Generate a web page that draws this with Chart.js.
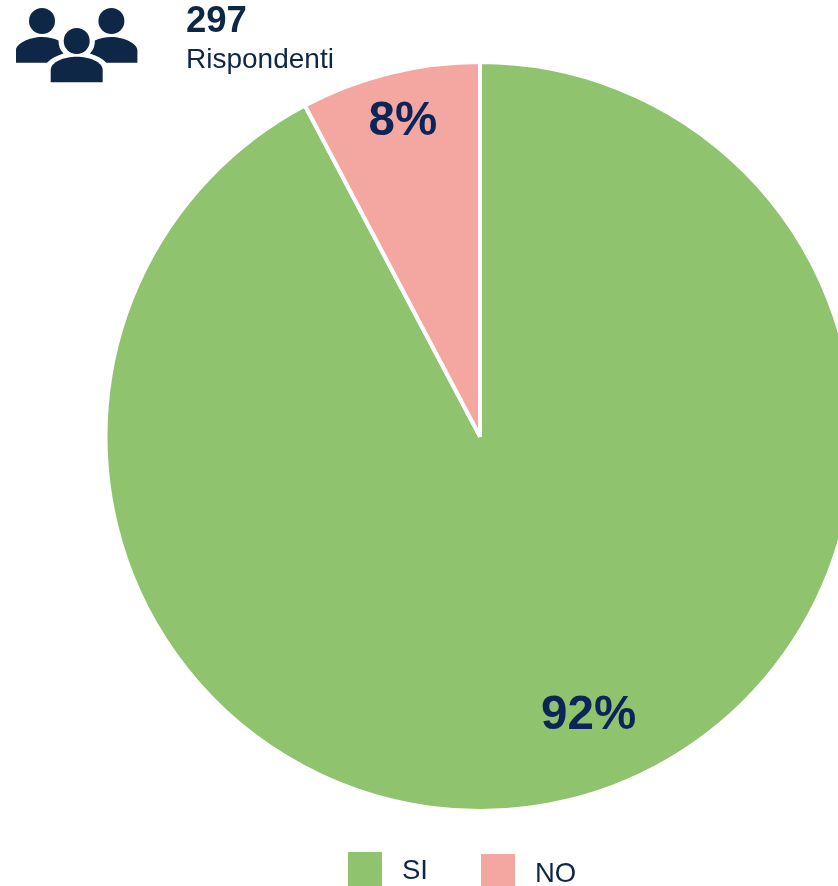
<!DOCTYPE html>
<html>
<head>
<meta charset="utf-8">
<script src="https://cdn.jsdelivr.net/npm/chart.js@4/dist/chart.umd.min.js"></script>
<style>
html,body{margin:0;padding:0;background:#fff;width:838px;height:886px;overflow:hidden;position:relative;font-family:"Liberation Sans",Arial,sans-serif;}
#wrap{position:absolute;left:0;top:0;width:960px;height:872px;}
.t{position:absolute;white-space:nowrap;color:#0e2747;line-height:1;}
.sw{position:absolute;width:34px;}
</style>
</head>
<body>
<div id="wrap"><canvas id="c" width="960" height="872"></canvas></div>
<svg style="position:absolute;left:0;top:0" width="150" height="90" viewBox="0 0 150 90">
  <g fill="#0e2747">
    <circle cx="42" cy="21" r="13"/>
    <circle cx="111.4" cy="21" r="13"/>
    <circle cx="76.7" cy="41" r="13"/>
    <path d="M16 62.7V50C16 44 29 37 42 37C48 37 54 38.5 58.5 40.5C58.5 46 60 50 63.5 53.5C57 55.5 51 58.5 47 62.7Z"/>
    <path d="M137.4 62.7V50C137.4 44 124.4 37 111.4 37C105.4 37 99.4 38.5 94.9 40.5C94.9 46 93.4 50 89.9 53.5C96.4 55.5 102.4 58.5 106.4 62.7Z"/>
    <path d="M50.7 82.3V70C50.7 62 64 56.7 76.7 56.7C89.4 56.7 102.7 62 102.7 70V82.3Z"/>
  </g>
</svg>
<div class="t" style="left:186px;top:2px;font-size:36.5px;font-weight:700;">297</div>
<div class="t" style="left:186px;top:45px;font-size:28px;">Rispondenti</div>
<div class="sw" style="left:348px;top:852px;height:34px;background:#8fc36d;"></div>
<div class="t" style="left:402px;top:856px;font-size:27.5px;">SI</div>
<div class="sw" style="left:481px;top:854px;height:32px;background:#f4a6a0;"></div>
<div class="t" style="left:535px;top:859px;font-size:27.5px;">NO</div>
<script>
const categories = ["SI", "NO"];
const respondents = [274, 23];
const percentLabels = ["92%", "8%"];
const sliceColors = ["#8fc36d", "#f4a6a0"];
const labelAnchors = [[0.29, 0.746], [-0.206, -0.84]];

const pieLabels = {
  id: "pieLabels",
  afterDatasetsDraw(chart) {
    const arcs = chart.getDatasetMeta(0).data;
    const ctx = chart.ctx;
    ctx.save();
    ctx.font = "700 47.5px 'Liberation Sans', Arial, sans-serif";
    ctx.fillStyle = "#0b2558";
    ctx.textAlign = "center";
    ctx.textBaseline = "middle";
    arcs.forEach((arc, i) => {
      ctx.fillText(percentLabels[i],
        arc.x + labelAnchors[i][0] * arc.outerRadius,
        arc.y + labelAnchors[i][1] * arc.outerRadius);
    });
    ctx.restore();
  }
};

new Chart(document.getElementById("c"), {
  type: "pie",
  data: {
    labels: categories,
    datasets: [{
      data: respondents,
      backgroundColor: sliceColors,
      borderColor: "#ffffff",
      borderWidth: 4,
      borderAlign: "center"
    }]
  },
  options: {
    responsive: false,
    animation: false,
    layout: { padding: { top: 60, bottom: 59, left: 0, right: 0 } },
    plugins: { legend: { display: false }, tooltip: { enabled: false } }
  },
  plugins: [pieLabels]
});
</script>
</body>
</html>
